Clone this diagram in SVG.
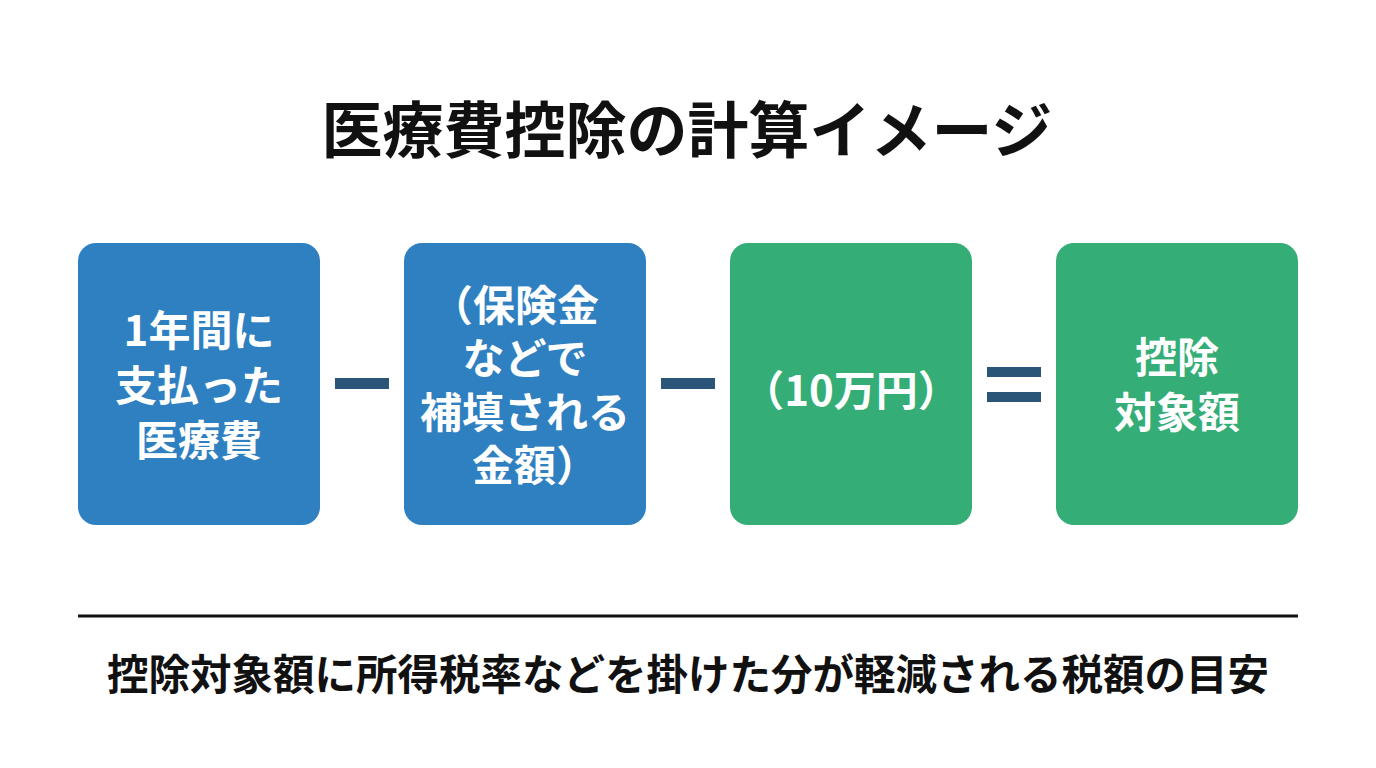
<svg xmlns="http://www.w3.org/2000/svg" width="1376" height="768" viewBox="0 0 1376 768">
<style>
.t{font-family:"Noto Sans CJK JP","Noto Sans",sans-serif;font-weight:700;}
.title{font-size:61px;fill:#111;}
.box{font-size:42px;fill:#fff;}
.note{font-size:41.5px;fill:#111;}
.blue{fill:#2f80c1;}
.green{fill:#34ad77;}
.op{fill:#2a5579;}
</style>
<rect width="1376" height="768" fill="#fff"/>
<text class="t title" x="687" y="153" text-anchor="middle">医療費控除の計算イメージ</text>
<g id="node1">
<rect class="blue" x="78" y="243" width="242" height="282" rx="18"/>
<text class="t box" x="199" y="346" text-anchor="middle">1年間に</text>
<text class="t box" x="199" y="401" text-anchor="middle">支払った</text>
<text class="t box" x="199" y="456" text-anchor="middle">医療費</text>
</g>
<g id="node2">
<rect class="blue" x="404" y="243" width="242" height="282" rx="18"/>
<text class="t box" x="515" y="321" text-anchor="middle">（保険金</text>
<text class="t box" x="525" y="374" text-anchor="middle">などで</text>
<text class="t box" x="525" y="428" text-anchor="middle">補填される</text>
<text class="t box" x="535" y="481" text-anchor="middle">金額）</text>
</g>
<g id="node3">
<rect class="green" x="730" y="243" width="242" height="282" rx="18"/>
<text class="t box" x="851" y="406" text-anchor="middle">（10万円）</text>
</g>
<g id="node4">
<rect class="green" x="1056" y="243" width="242" height="282" rx="18"/>
<text class="t box" x="1177" y="373" text-anchor="middle">控除</text>
<text class="t box" x="1177" y="428" text-anchor="middle">対象額</text>
</g>
<g id="connectors">
<rect class="op" x="335" y="378" width="54" height="11"/>
<rect class="op" x="661" y="378" width="54" height="11"/>
<rect class="op" x="987" y="367" width="54" height="10"/>
<rect class="op" x="987" y="392" width="54" height="10"/>
</g>
<line x1="78" y1="616" x2="1298" y2="616" stroke="#111" stroke-width="3"/>
<text class="t note" x="688" y="690" text-anchor="middle">控除対象額に所得税率などを掛けた分が軽減される税額の目安</text>
</svg>
